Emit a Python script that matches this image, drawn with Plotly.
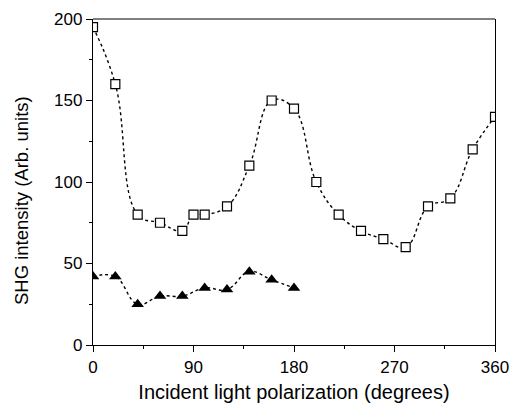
import plotly.graph_objects as go

sq_x = [0, 20, 40, 60, 80, 90, 100, 120, 140, 160, 180, 200, 220, 240, 260, 280, 300, 320, 340, 360]
sq_y = [195, 160, 80, 75, 70, 80, 80, 85, 110, 150, 145, 100, 80, 70, 65, 60, 85, 90, 120, 140]
tri_x = [0, 20, 40, 60, 80, 100, 120, 140, 160, 180]
tri_y = [42, 42, 25, 30, 30, 35, 34, 45, 40, 35]

x_ticks = [0, 90, 180, 270, 360]
y_ticks = [0, 50, 100, 150, 200]

fig = go.Figure()
fig.add_trace(go.Scatter(
    x=sq_x, y=sq_y, mode="lines+markers",
    line=dict(color="black", width=1.4, dash="3px,3px", shape="spline", smoothing=1.2),
    marker=dict(symbol="square", size=9, color="white", line=dict(width=1.2, color="black")),
))
fig.add_trace(go.Scatter(
    x=tri_x, y=tri_y, mode="lines+markers",
    line=dict(color="black", width=1.4, dash="3px,3px", shape="spline", smoothing=1.2),
    marker=dict(symbol="triangle-up", size=11, color="black"),
))

font = "Liberation Sans, Arial, sans-serif"
fig.update_layout(
    width=510, height=406,
    margin=dict(l=93, r=15, t=19, b=61),
    paper_bgcolor="white", plot_bgcolor="white",
    showlegend=False,
    font=dict(family=font, size=17, color="black"),
    shapes=[dict(type="line", xref="paper", yref="paper", x0=0, x1=1, y0=1, y1=1,
                 line=dict(color="#555555", width=1.5))],
    annotations=[dict(text="SHG intensity (Arb. units)", textangle=-90,
                      xref="paper", yref="paper", x=-0.178, y=0.443,
                      xanchor="center", yanchor="middle", showarrow=False,
                      font=dict(size=18.5))],
)
fig.update_xaxes(
    range=[0, 360], tickvals=x_ticks, ticktext=[str(v) for v in x_ticks], automargin=False,
    ticklabeloverflow="allow",
    showgrid=False, zeroline=False, showline=True, linecolor="black", linewidth=1.4, mirror=False,
    ticks="outside", ticklen=6, tickwidth=1.2, tickcolor="black",
    minor=dict(tickvals=[45, 135, 225, 315], ticks="outside", ticklen=3, tickwidth=1.2, tickcolor="black"),
    title=dict(text="Incident light polarization (degrees)", standoff=9, font=dict(size=20)),
)
fig.update_yaxes(
    range=[0, 200], tickvals=y_ticks, ticktext=[str(v) for v in y_ticks], automargin=False,
    ticklabeloverflow="allow",
    showgrid=False, zeroline=False, showline=True, linecolor="black", linewidth=1.4, mirror=True,
    ticks="outside", ticklen=6, tickwidth=1.2, tickcolor="black",
    minor=dict(tickvals=[25, 75, 125, 175], ticks="outside", ticklen=3, tickwidth=1.2, tickcolor="black"),
)
fig.write_html("out.html")
